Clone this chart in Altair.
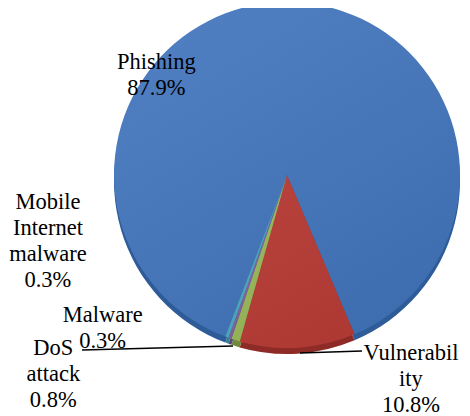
import math
import altair as alt
import pandas as pd

categories = ["Phishing", "Vulnerability", "DoS attack", "Malware", "Mobile Internet malware"]
values = [87.9, 10.8, 0.8, 0.3, 0.3]
labels = ["Phishing\n87.9%", "Vulnerabil\nity\n10.8%", "DoS\nattack\n0.8%",
          "Malware\n0.3%", "Mobile\nInternet\nmalware\n0.3%"]
face_colors = ["#4275BD", "#BB3C36", "#9BBB59", "#8064A2", "#4BACC6"]
side_colors = ["#2E5C99", "#8E2B27", "#6F8A3C", "#5C4878", "#357F93"]

df = pd.DataFrame({"cat": categories, "value": values, "label": labels,
                   "idx": list(range(len(categories)))})

start = math.radians(200.9)
theta_scale = alt.Scale(range=[start, start + 2 * math.pi])
CX, CY, R = 279, 167, 173

base = alt.Chart(df).encode(
    theta=alt.Theta("value:Q", stack=True, scale=theta_scale),
    order=alt.Order("idx:Q"),
)

side = base.mark_arc(radius=R, stroke=None).encode(
    color=alt.Color("cat:N", scale=alt.Scale(domain=categories, range=side_colors), legend=None),
    x=alt.value(CX), y=alt.value(CY + 6),
)
face = base.mark_arc(radius=R, stroke=None).encode(
    fill=alt.Fill("cat:N", scale=alt.Scale(domain=categories, range=face_colors), legend=None),
    x=alt.value(CX), y=alt.value(CY),
)

shade = alt.Chart(pd.DataFrame({"a": [1]})).mark_arc(
    radius=R, theta=0, theta2=2 * math.pi, stroke=None,
    fill={"gradient": "linear", "x1": 0.2, "y1": 0, "x2": 0.8, "y2": 1,
          "stops": [{"offset": 0, "color": "rgba(255,255,255,0.07)"},
                    {"offset": 1, "color": "rgba(0,0,0,0.08)"}]},
).encode(x=alt.value(CX), y=alt.value(CY))

# (radius, dx, dy) of the first text line, relative to the view centre
label_place = {
    "Phishing": (146, -76, -4),
    "Vulnerability": (145, 167, -4),
    "DoS attack": (147, -138, -4),
    "Malware": (113, -95, -4),
    "Mobile Internet malware": (6, -185, -16),
}

FONT = "Liberation Serif"

text_layers = []
for cat, (rad, dx, dy) in label_place.items():
    t = base.mark_text(
        radius=rad, dx=dx, dy=dy, font=FONT, fontSize=22.5,
        lineHeight=26, lineBreak="\n", align="center", baseline="middle", color="#000000",
    ).encode(
        text=alt.condition(alt.datum.cat == cat, alt.Text("label:N"), alt.value("")),
    )
    text_layers.append(t)

lines = [
    alt.Chart(pd.DataFrame({"a": [1]})).mark_rule(color="#000000", strokeWidth=1.6).encode(
        x=alt.value(74), y=alt.value(342), x2=alt.value(225), y2=alt.value(338)),
    alt.Chart(pd.DataFrame({"a": [1]})).mark_rule(color="#000000", strokeWidth=1.6).encode(
        x=alt.value(292), y=alt.value(345), x2=alt.value(354), y2=alt.value(343)),
]

chart = alt.layer(side, face, shade, *lines, *text_layers).resolve_scale(
    color="independent", fill="independent"
).properties(
    width=454, height=408, padding=0, autosize=alt.AutoSizeParams(type="none"),
    background="white",
).configure_view(stroke=None)

chart.save("out.html", embed_options={"renderer": "svg", "actions": False})
